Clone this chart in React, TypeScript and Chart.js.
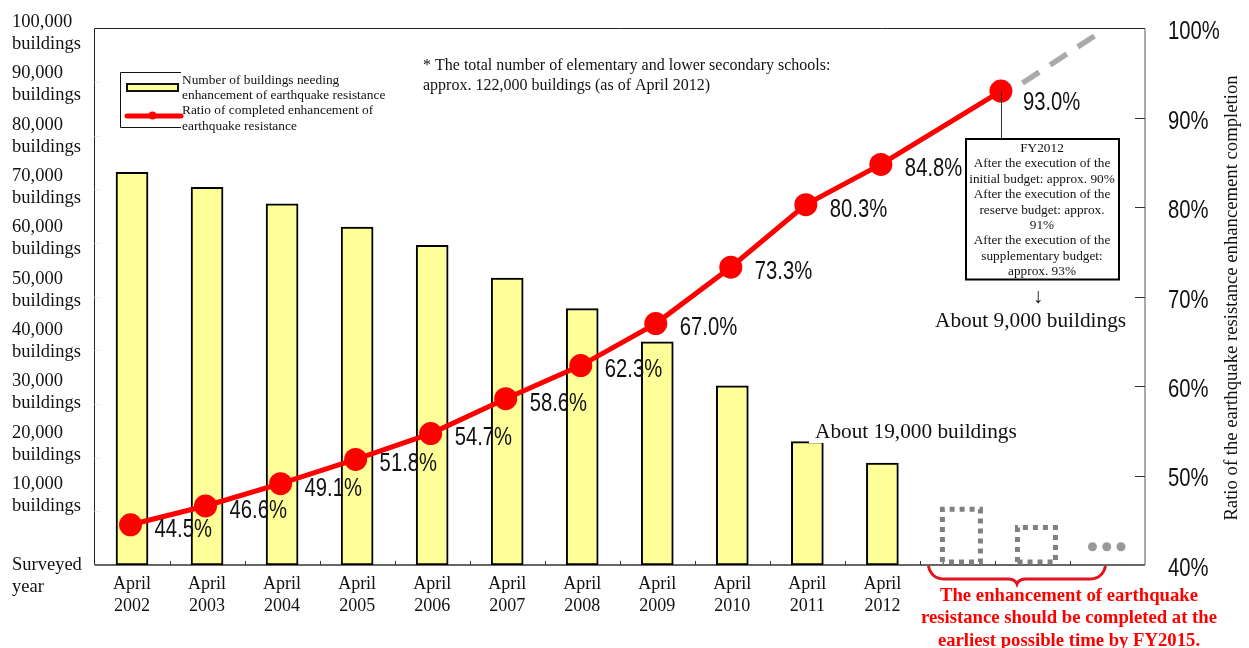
import React, { useEffect, useRef } from "react";
import { Chart, registerables } from "chart.js";

Chart.register(...registerables);

const SERIF = '"Liberation Serif", "Times New Roman", serif';
const SANS = '"Liberation Sans", Arial, sans-serif';

const surveyYears = ["2002", "2003", "2004", "2005", "2006", "2007", "2008", "2009", "2010", "2011", "2012"];
const futureSlots = ["", "", ""];
const buildingsNeedingWork = [73200, 70400, 67300, 63000, 59600, 53500, 47800, 41600, 33400, 23000, 19000];
const projectedBuildings = [10400, 7000];
const completionRatio = [44.5, 46.6, 49.1, 51.8, 54.7, 58.6, 62.3, 67.0, 73.3, 80.3, 84.8, 93.0];
const completionPosition = [0, 1, 2, 3, 4, 5, 6, 7, 8, 9, 10, 11.6];
const trendX = [11.887, 12.88];
const trendY = [93.9, 99.35];
const ellipsisX = [12.82, 13.01, 13.2];
const ellipsisY = [3400, 3400, 3400];
const leftTickValues = [10000, 20000, 30000, 40000, 50000, 60000, 70000, 80000, 90000, 100000];

const noteLines = [
  "* The total number of elementary and lower secondary schools:",
  "approx. 122,000 buildings (as of April 2012)",
];
const legendLines = [
  "Number of buildings needing",
  "enhancement of earthquake resistance",
  "Ratio of completed enhancement of",
  "earthquake resistance",
];
const calloutLines = [
  "FY2012",
  "After the execution of the",
  "initial budget: approx. 90%",
  "After the execution of the",
  "reserve budget: approx.",
  "91%",
  "After the execution of the",
  "supplementary budget:",
  "approx. 93%",
];
const goalLines = [
  "The enhancement of earthquake",
  "resistance should be completed at the",
  "earliest possible time by FY2015.",
];
const ratioAxisTitle = "Ratio of the earthquake resistance enhancement completion";

function text(ctx: CanvasRenderingContext2D, s: string, x: number, y: number, font: string, color = "#111", align: CanvasTextAlign = "left") {
  ctx.font = font;
  ctx.fillStyle = color;
  ctx.textAlign = align;
  ctx.textBaseline = "middle";
  ctx.fillText(s, x, y);
}

// Percent figures are set in a condensed cut, obtained by narrowing the sans face.
function narrowText(ctx: CanvasRenderingContext2D, s: string, x: number, y: number) {
  ctx.save();
  ctx.translate(x, y);
  ctx.scale(0.81, 1);
  text(ctx, s, 0, 0, `25px ${SANS}`);
  ctx.restore();
}

function zeroScalePadding(scale: any) {
  scale.paddingTop = 0;
  scale.paddingBottom = 0;
  scale.paddingLeft = 0;
  scale.paddingRight = 0;
}

// Frame and inward tick marks of the plot area.
const framePlugin = {
  id: "frame",
  beforeDatasetsDraw(chart: any) {
    const { ctx, scales } = chart;
    const { left, right, top, bottom } = chart.chartArea;
    ctx.save();
    ctx.lineWidth = 1;
    ctx.strokeStyle = "#222";
    ctx.beginPath();
    ctx.moveTo(left, bottom);
    ctx.lineTo(left, top);
    ctx.lineTo(right, top);
    ctx.stroke();
    ctx.strokeStyle = "#555";
    ctx.beginPath();
    ctx.moveTo(right, top);
    ctx.lineTo(right, bottom);
    ctx.stroke();
    ctx.strokeStyle = "#666";
    ctx.lineWidth = 2;
    ctx.beginPath();
    ctx.moveTo(left, bottom);
    ctx.lineTo(right, bottom);
    ctx.stroke();
    ctx.lineWidth = 1;
    ctx.strokeStyle = "#333";
    ctx.beginPath();
    for (let v = 50; v < 100; v += 10) {
      const y = Math.round(scales.yRatio.getPixelForValue(v)) + 0.5;
      ctx.moveTo(right - 10, y);
      ctx.lineTo(right, y);
    }
    const slots = scales.x.ticks.length;
    for (let i = 1; i < slots; i++) {
      const x = Math.round(scales.x.getPixelForValue(i) - (right - left) / slots / 2) + 0.5;
      ctx.moveTo(x, bottom - 4);
      ctx.lineTo(x, bottom);
    }
    ctx.stroke();
    ctx.strokeStyle = "#eeeeee";
    ctx.beginPath();
    for (const v of leftTickValues) {
      if (v >= 100000) continue;
      const y = Math.round(scales.y.getPixelForValue(v)) + 0.5;
      ctx.moveTo(left, y);
      ctx.lineTo(left + 6, y);
    }
    ctx.stroke();
    ctx.restore();
  },
};

// Dotted outlines of the projected bars, value labels and the text annotations.
const annotationPlugin = {
  id: "annotations",
  afterDatasetsDraw(chart: any) {
    const { ctx, scales } = chart;
    ctx.save();

    const projected = chart.getDatasetMeta(1).data;
    ctx.strokeStyle = "#808080";
    ctx.lineWidth = 5;
    ctx.setLineDash([5, 5]);
    projected.forEach((bar: any, i: number) => {
      if (i < surveyYears.length || projectedBuildings[i - surveyYears.length] == null) return;
      const cx = bar.x + 4;
      const half = bar.width / 2;
      const base = bar.base - 3;
      ctx.beginPath();
      ctx.moveTo(cx - half, base);
      ctx.lineTo(cx - half, bar.y);
      ctx.lineTo(cx + half, bar.y);
      ctx.lineTo(cx + half, base);
      ctx.lineTo(cx - half, base);
      ctx.stroke();
    });
    ctx.setLineDash([]);

    // White strip behind the 2012 figure, cutting into the neighbouring bar.
    ctx.fillStyle = "#fff";
    ctx.fillRect(809, 421, 211, 22);
    text(ctx, "About 19,000 buildings", 815, 432, `21.3px ${SERIF}`);

    // Value labels follow their points.
    const points = chart.getDatasetMeta(2).data;
    points.forEach((p: any, i: number) => {
      const last = i === completionRatio.length - 1;
      narrowText(ctx, `${completionRatio[i].toFixed(1)}%`, p.x + (last ? 22 : 24), p.y + (last ? 12 : 5));
    });

    noteLines.forEach((s, i) => text(ctx, s, 423, 66 + i * 20, `16px ${SERIF}`));

    // Legend
    ctx.strokeStyle = "#111";
    ctx.lineWidth = 1;
    ctx.beginPath();
    ctx.moveTo(181, 72.5);
    ctx.lineTo(120.5, 72.5);
    ctx.lineTo(120.5, 127.5);
    ctx.lineTo(181, 127.5);
    ctx.stroke();
    ctx.fillStyle = "#FFFF99";
    ctx.fillRect(127, 84, 51, 7);
    ctx.lineWidth = 2;
    ctx.strokeRect(127, 84, 51, 7);
    ctx.strokeStyle = "#ff0000";
    ctx.lineWidth = 5;
    ctx.lineCap = "round";
    ctx.beginPath();
    ctx.moveTo(127, 116);
    ctx.lineTo(181, 116);
    ctx.stroke();
    ctx.lineCap = "butt";
    ctx.fillStyle = "#ff0000";
    ctx.beginPath();
    ctx.arc(152.5, 115.5, 4, 0, Math.PI * 2);
    ctx.fill();
    [80, 95, 110, 126].forEach((y, i) => text(ctx, legendLines[i], 182, y, `13.4px ${SERIF}`));

    // Callout for the FY2012 budget steps
    const tip = points[points.length - 1];
    ctx.strokeStyle = "#333";
    ctx.lineWidth = 1;
    ctx.beginPath();
    ctx.moveTo(Math.round(tip.x) + 0.5, tip.y);
    ctx.lineTo(Math.round(tip.x) + 0.5, 140);
    ctx.stroke();
    ctx.fillStyle = "#fff";
    ctx.fillRect(966, 139, 153, 140.5);
    ctx.strokeStyle = "#000";
    ctx.lineWidth = 2;
    ctx.strokeRect(966, 139, 153, 140.5);
    calloutLines.forEach((s, i) => text(ctx, s, 1042, 148.5 + i * 15.4, `13.3px ${SERIF}`, "#111", "center"));
    text(ctx, "↓", 1038, 297, `21px ${SERIF}`, "#111", "center");
    text(ctx, "About 9,000 buildings", 935, 321, `21.3px ${SERIF}`);

    // Axis captions
    text(ctx, "Surveyed", 12, 565, `18.5px ${SERIF}`);
    text(ctx, "year", 12, 587, `18.5px ${SERIF}`);

    // Ratio axis: figures beside the plot, title reading bottom to top.
    const ratio = scales.yRatio;
    ratio.ticks.forEach((t: any) => {
      narrowText(ctx, `${t.value}%`, 1168, ratio.getPixelForValue(t.value) + 4);
    });
    ctx.save();
    ctx.translate(1232, 298);
    ctx.rotate(-Math.PI / 2);
    text(ctx, ratioAxisTitle, 0, 0, `18.7px ${SERIF}`, "#111", "center");
    ctx.restore();

    // Brace under the open-ended years
    ctx.strokeStyle = "#e0141c";
    ctx.lineWidth = 3;
    const braceLeft = scales.x.getPixelForValue(11) - 29;
    const braceRight = scales.x.getPixelForValue(13) - 2;
    const mid = (braceLeft + braceRight) / 2;
    ctx.beginPath();
    ctx.moveTo(braceLeft, 566);
    ctx.quadraticCurveTo(braceLeft + 3, 579, braceLeft + 16, 579);
    ctx.lineTo(mid - 9, 579);
    ctx.quadraticCurveTo(mid - 2, 579, mid, 584);
    ctx.quadraticCurveTo(mid + 2, 579, mid + 9, 579);
    ctx.lineTo(braceRight - 16, 579);
    ctx.quadraticCurveTo(braceRight - 3, 579, braceRight, 566);
    ctx.stroke();
    goalLines.forEach((s, i) => text(ctx, s, 1069, 596 + i * 22.5, `bold 18.7px ${SERIF}`, "#ff0000", "center"));

    ctx.restore();
  },
};

export default function App() {
  const ref = useRef<HTMLCanvasElement>(null);
  useEffect(() => {
    const labels = [...surveyYears.map((y) => ["April", y]), ...futureSlots];
    const chart = new Chart(ref.current!, {
      type: "bar",
      data: {
        labels,
        datasets: [
          {
            type: "bar",
            data: [...buildingsNeedingWork, null, null, null],
            backgroundColor: "#FFFF99",
            borderColor: "#000",
            borderWidth: 2,
            borderSkipped: false,
            barThickness: 32,
            grouped: false,
            yAxisID: "y",
            order: 3,
          },
          {
            type: "bar",
            data: [...surveyYears.map(() => null), ...projectedBuildings, null],
            backgroundColor: "transparent",
            borderWidth: 0,
            barThickness: 38,
            grouped: false,
            yAxisID: "y",
            order: 2,
          },
          {
            type: "line",
            data: completionRatio.map((v, i) => ({ x: completionPosition[i], y: v })),
            xAxisID: "xPos",
            yAxisID: "yRatio",
            borderColor: "#ff0000",
            backgroundColor: "#ff0000",
            borderWidth: 5,
            pointRadius: 11.5,
            pointBorderWidth: 0,
            tension: 0,
            order: 0,
          },
          {
            type: "line",
            data: trendX.map((x, i) => ({ x, y: trendY[i] })),
            xAxisID: "xPos",
            yAxisID: "yRatio",
            borderColor: "#aaaaaa",
            borderWidth: 5.5,
            borderDash: [20, 13],
            pointRadius: 0,
            order: 1,
          },
          {
            type: "line",
            data: ellipsisX.map((x, i) => ({ x, y: ellipsisY[i] })),
            xAxisID: "xPos",
            yAxisID: "y",
            showLine: false,
            pointRadius: 4.5,
            pointBorderWidth: 0,
            backgroundColor: "#999",
            order: 1,
          },
        ],
      } as any,
      options: {
        responsive: false,
        animation: false,
        layout: { padding: { left: 12, top: 28.5, right: 0, bottom: 0 } },
        plugins: { legend: { display: false }, tooltip: { enabled: false } },
        scales: {
          x: {
            grid: { display: false },
            border: { display: false },
            ticks: {
              color: "#111",
              font: { family: SERIF, size: 18, lineHeight: 22 / 18 },
              maxRotation: 0,
              autoSkip: false,
              padding: 0,
            },
            afterFit(scale: any) {
              scale.height = 83;
              zeroScalePadding(scale);
            },
          },
          xPos: { type: "linear", display: false, offset: false, min: -0.48, max: 13.52 },
          y: { display: false, min: 0, max: 100000 },
          // Carries the building-count captions, which sit on a tighter pitch than the tick marks.
          yCaption: {
            type: "linear",
            position: "left",
            min: -3832,
            max: 100688,
            grid: { display: false },
            border: { display: false },
            afterBuildTicks(scale: any) {
              scale.ticks = leftTickValues.map((value) => ({ value }));
            },
            ticks: {
              color: "#111",
              font: { family: SERIF, size: 18.5, lineHeight: 22 / 18.5 },
              crossAlign: "far",
              padding: 0,
              labelOffset: 1,
              autoSkip: false,
              callback: (v: any) => [Number(v).toLocaleString("en-US"), "buildings"],
            },
            afterFit(scale: any) {
              scale.width = 82.5;
              zeroScalePadding(scale);
            },
          },
          yRatio: {
            type: "linear",
            position: "right",
            min: 40,
            max: 100,
            grid: { display: false },
            border: { display: false },
            ticks: { display: false, stepSize: 10 },
            afterFit(scale: any) {
              scale.width = 104;
              zeroScalePadding(scale);
            },
          },
        },
      },
      plugins: [framePlugin, annotationPlugin],
    } as any);
    return () => chart.destroy();
  }, []);
  return (
    <div style={{ position: "fixed", left: 0, top: 0, width: 1249, height: 648, background: "#fff" }}>
      <canvas ref={ref} width={1249} height={648} style={{ display: "block" }} />
    </div>
  );
}
